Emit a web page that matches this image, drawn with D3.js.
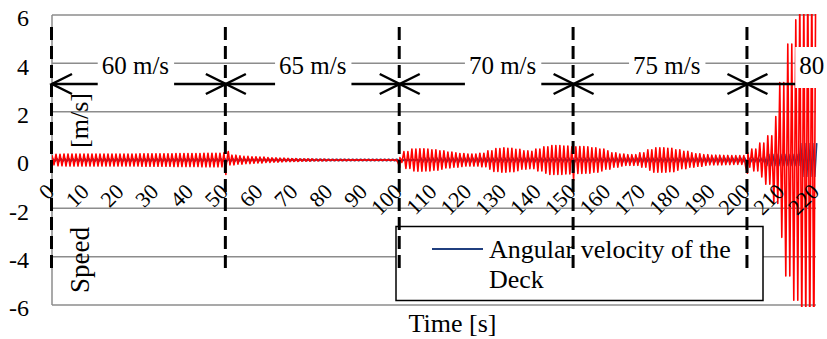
<!DOCTYPE html>
<html>
<head>
<meta charset="utf-8">
<script src="https://d3js.org/d3.v7.min.js"></script>
<style>
  body { margin: 0; background: #fff; }
  svg { display: block; }
  text { font-family: "Liberation Serif", "Times New Roman", serif; fill: #000; }
</style>
</head>
<body>
<svg id="chart" width="827" height="339"></svg>
<script>
// axis ticks
const yTicks = [-6, -4, -2, 0, 2, 4, 6];
const xTicks = [0, 10, 20, 30, 40, 50, 60, 70, 80, 90, 100, 110, 120, 130, 140, 150, 160, 170, 180, 190, 200, 210, 220];

// wind speed stages
const stageStart = [0, 50, 100, 150, 200];
const stageEnd = [50, 100, 150, 200, 220];
const stageLabels = ["60 m/s", "65 m/s", "70 m/s", "75 m/s", "80"];
const labelStart = [14.3, 65.3, 119.9, 167.1, 214.9];   // time where each label text begins
const solidArrow = [false, false, false, true, false];

// red trace: oscillation envelope read every 2 s (0..220 s)
const redAmp = [
  0.20, 0.24, 0.25, 0.25, 0.25, 0.25, 0.25, 0.25, 0.25, 0.25, 0.25, 0.25, 0.25, 0.26, 0.26, 0.26, 0.26, 0.26, 0.27, 0.27, 0.27, 0.27, 0.28, 0.28, 0.28,
  0.30, 0.20, 0.17, 0.15, 0.13, 0.12, 0.10, 0.09, 0.08, 0.07, 0.06, 0.05, 0.05, 0.04, 0.04, 0.03, 0.03, 0.03, 0.02, 0.02, 0.02, 0.02, 0.02, 0.02, 0.02,
  0.10, 0.35, 0.45, 0.46, 0.45, 0.42, 0.38, 0.33, 0.30, 0.27, 0.25, 0.25, 0.28, 0.38, 0.47, 0.50, 0.48, 0.44, 0.38, 0.36, 0.45, 0.55, 0.60, 0.60, 0.58,
  0.55, 0.56, 0.55, 0.50, 0.45, 0.38, 0.30, 0.25, 0.22, 0.22, 0.30, 0.42, 0.50, 0.50, 0.48, 0.42, 0.36, 0.30, 0.26, 0.22, 0.20, 0.20, 0.19, 0.18, 0.18,
  0.30, 0.45, 0.70, 1.00, 1.80, 3.20, 4.80, 5.80, 6.80, 7.50, 8.00
];
// transients at the stage changes [time, value]
const redKicks = [[50, -0.6], [50.7, 0.35], [100, -0.3], [150, -0.85], [200, -0.55]];
const period = 1.15; // s, read from the peak spacing

// navy trace (angular velocity of the deck): envelope every 10 s
const navyAmp = [0.05, 0.05, 0.05, 0.05, 0.05, 0.05, 0.04, 0.03, 0.03, 0.03, 0.03, 0.08, 0.08, 0.08, 0.08, 0.08, 0.08, 0.08, 0.08, 0.08, 0.08, 0.25, 0.7];

const legendText = ["Angular velocity of the", "Deck"];

const svg = d3.select("#chart");
const plotLeft = 52, plotRight = 817, plotTop = 15, plotBottom = 305;

const x = d3.scaleLinear().domain([0, 220]).range([plotLeft, plotRight]);
const y = d3.scaleLinear().domain([-6, 6]).range([plotBottom, plotTop]);

// gridlines
svg.append("g").selectAll("line").data(yTicks).join("line")
  .attr("x1", plotLeft).attr("x2", plotRight - 1)
  .attr("y1", d => y(d)).attr("y2", d => y(d))
  .attr("stroke", "#8c8c8c").attr("stroke-width", 1.5);

svg.append("line")
  .attr("x1", plotLeft).attr("x2", plotLeft).attr("y1", plotTop).attr("y2", plotBottom)
  .attr("stroke", "#8c8c8c").attr("stroke-width", 1.5);

// y axis labels
const yAxis = svg.append("g")
  .attr("transform", `translate(${plotLeft},0)`)
  .call(d3.axisLeft(y).tickValues(yTicks).tickSize(0).tickPadding(23).tickFormat(d => String(d)));
yAxis.select(".domain").remove();
yAxis.selectAll("text").attr("font-size", "24px").attr("dy", "0.45em")
  .style("font-family", "Liberation Serif");

// build series
function zigzag(amp, step) {
  const pts = [];
  const half = period / 2;
  for (let k = 0; k * half <= 220; k++) {
    const t = k * half;
    const a = amp[Math.round(t / step)];
    pts.push([t, (k % 2 ? -1 : 1) * a]);
  }
  return pts;
}
const redPts = zigzag(redAmp, 2).concat(redKicks).sort((a, b) => a[0] - b[0]);
const navyPts = zigzag(navyAmp, 10).map(p => [p[0] + period / 4, p[1]]).filter(p => p[0] <= 220);

svg.append("clipPath").attr("id", "plotClip")
  .append("rect").attr("x", plotLeft).attr("y", plotTop - 1)
  .attr("width", plotRight - plotLeft + 1).attr("height", plotBottom - plotTop + 3);

const line = d3.line().x(d => x(d[0])).y(d => y(d[1]));
const plot = svg.append("g").attr("clip-path", "url(#plotClip)");
plot.append("path").datum(navyPts).attr("d", line)
  .attr("fill", "none").attr("stroke", "#203f7f").attr("stroke-width", 1.5);
plot.append("path").datum(redPts).attr("d", line)
  .attr("fill", "none").attr("stroke", "#ff0000").attr("stroke-width", 1.6)
  .attr("stroke-linejoin", "round");

// x axis labels along y = 0
const xAxis = svg.append("g")
  .attr("transform", `translate(0,${y(0)})`)
  .call(d3.axisBottom(x).tickValues(xTicks).tickSize(0).tickFormat(d => String(d)));
xAxis.select(".domain").remove();
xAxis.selectAll("text")
  .attr("x", 0).attr("y", 0).attr("dy", 0)
  .attr("text-anchor", "end")
  .attr("font-size", "22px")
  .style("font-family", "Liberation Serif")
  .attr("transform", "translate(3,33) rotate(-45)");

// legend
const legend = svg.append("g");
legend.append("rect")
  .attr("x", 396).attr("y", 226.5).attr("width", 367).attr("height", 74)
  .attr("fill", "#fff").attr("stroke", "#000").attr("stroke-width", 1.5);
legend.append("line")
  .attr("x1", 432).attr("x2", 483).attr("y1", 249).attr("y2", 249)
  .attr("stroke", "#203f7f").attr("stroke-width", 2);
legend.selectAll("text").data(legendText).join("text")
  .attr("x", 489).attr("y", (d, i) => 258 + i * 30)
  .attr("font-size", "26px").text(d => d);

// dashed stage dividers
svg.append("g").selectAll("line").data(stageStart).join("line")
  .attr("x1", d => x(d) - 0.5).attr("x2", d => x(d) - 0.5)
  .attr("y1", 27).attr("y2", 268)
  .attr("stroke", "#000").attr("stroke-width", 3)
  .attr("stroke-dasharray", "13,6");

// stage arrows and labels
const arrowY = 84;
const stages = stageStart.map((s, i) => ({ s, e: stageEnd[i], label: stageLabels[i], at: labelStart[i], solid: solidArrow[i], last: i === stageStart.length - 1 }));

function drawArrow(g, d) {
  const x0 = x(d.s), x1 = x(d.e);
  g.append("line").attr("x1", x0).attr("x2", x1).attr("y1", arrowY).attr("y2", arrowY)
    .attr("stroke", "#000").attr("stroke-width", 2.5);
  g.append("path").attr("d", `M${x0 + 20},${arrowY - 10}L${x0},${arrowY}L${x0 + 20},${arrowY + 10}`)
    .attr("fill", "none").attr("stroke", "#000").attr("stroke-width", 2.5);
  if (!d.last) {
    g.append("path").attr("d", `M${x1 - 20},${arrowY - 10}L${x1},${arrowY}L${x1 - 20},${arrowY + 10}`)
      .attr("fill", "none").attr("stroke", "#000").attr("stroke-width", 2.5);
  }
}

svg.append("g").selectAll("g").data(stages).join("g").each(function (d) {
  const g = d3.select(this);
  if (!d.solid) drawArrow(g, d);
  const tx = x(d.at);
  const txt = g.append("text").attr("x", tx).attr("y", 74)
    .attr("font-size", "25px").text(d.label);
  const w = txt.node().getComputedTextLength();
  g.insert("rect", "text")
    .attr("x", tx - 4).attr("y", 47).attr("width", w + 9).attr("height", 41)
    .attr("fill", "#fff");
  if (d.solid) drawArrow(g, d);
});

// axis titles
svg.append("text").attr("transform", "translate(88,120.5) rotate(-90)")
  .attr("text-anchor", "middle").attr("font-size", "26px").text("[m/s]");
svg.append("text").attr("transform", "translate(89,260) rotate(-90)")
  .attr("text-anchor", "middle").attr("font-size", "27px").text("Speed");
svg.append("text").attr("x", 452.5).attr("y", 332)
  .attr("text-anchor", "middle").attr("font-size", "26px").text("Time [s]");
</script>
</body>
</html>
